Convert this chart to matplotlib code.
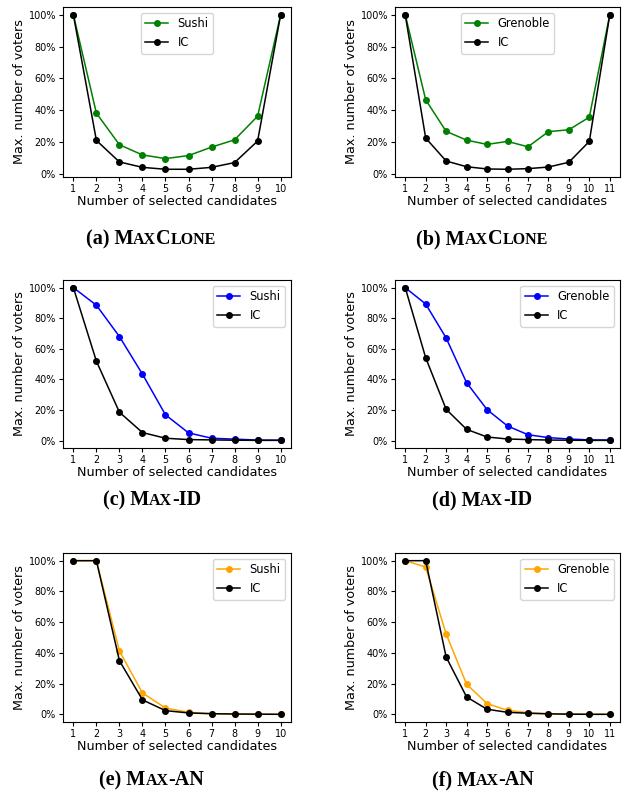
import matplotlib
matplotlib.use("Agg")
import matplotlib.pyplot as plt
from matplotlib.ticker import PercentFormatter
from matplotlib.offsetbox import TextArea, HPacker, AnnotationBbox

# values (fraction of voters)
clone_sushi = [1.0, 0.382, 0.184, 0.120, 0.097, 0.116, 0.169, 0.215, 0.363, 1.0]
clone_sushi_ic = [1.0, 0.211, 0.076, 0.042, 0.030, 0.030, 0.042, 0.072, 0.207, 1.0]
clone_gren = [1.0, 0.466, 0.268, 0.213, 0.186, 0.205, 0.171, 0.266, 0.278, 0.357, 1.0]
clone_gren_ic = [1.0, 0.226, 0.082, 0.046, 0.032, 0.030, 0.034, 0.044, 0.074, 0.205, 1.0]

id_sushi = [1.0, 0.885, 0.680, 0.434, 0.168, 0.050, 0.015, 0.009, 0.003, 0.002]
id_sushi_ic = [1.0, 0.519, 0.185, 0.052, 0.015, 0.006, 0.004, 0.002, 0.001, 0.001]
id_gren = [1.0, 0.893, 0.671, 0.379, 0.203, 0.096, 0.039, 0.020, 0.011, 0.005, 0.004]
id_gren_ic = [1.0, 0.542, 0.205, 0.074, 0.024, 0.011, 0.007, 0.004, 0.003, 0.002, 0.002]

an_sushi = [1.0, 1.0, 0.412, 0.139, 0.041, 0.013, 0.004, 0.002, 0.001, 0.0]
an_sushi_ic = [1.0, 1.0, 0.349, 0.094, 0.024, 0.009, 0.004, 0.002, 0.001, 0.0]
an_gren = [1.0, 0.958, 0.523, 0.196, 0.070, 0.026, 0.011, 0.004, 0.002, 0.001, 0.0]
an_gren_ic = [1.0, 1.0, 0.373, 0.113, 0.033, 0.013, 0.007, 0.003, 0.001, 0.0, 0.0]

W, H = 622, 795
fig = plt.figure(figsize=(W / 100, H / 100), dpi=100)


def add_panel(left, top, right, bottom, data, ic, name, color, loc):
    ax = fig.add_axes([left / W, 1 - bottom / H, (right - left) / W, (bottom - top) / H])
    x = list(range(1, len(data) + 1))
    ax.plot(x, data, marker="o", markersize=4, lw=1.1, color=color, label=name)
    ax.plot(x, ic, marker="o", markersize=4, lw=1.1, color="black", label="IC")
    ax.set_xticks(x)
    ax.yaxis.set_major_formatter(PercentFormatter(1.0, decimals=0))
    ax.tick_params(labelsize=6.9, length=3, pad=2)
    ax.set_xlabel("Number of selected candidates", fontsize=9.2, labelpad=1)
    ax.set_ylabel("Max. number of voters", fontsize=9.2, labelpad=2)
    ax.legend(loc=loc, fontsize=8.3)
    return ax


def caption(xc, yc, parts):
    boxes = []
    for txt, big in parts:
        boxes.append(TextArea(txt, textprops=dict(fontsize=14.5 if big else 11.5,
                                                   fontweight="bold",
                                                   family="Liberation Serif")))
    pack = HPacker(children=boxes, align="baseline", pad=0, sep=0)
    ab = AnnotationBbox(pack, (xc / W, 1 - yc / H), xycoords="figure fraction",
                        frameon=False, box_alignment=(0.5, 0.5))
    fig.add_artist(ab)


add_panel(63, 7, 291, 177, clone_sushi, clone_sushi_ic, "Sushi", "green", "upper center")
add_panel(395, 7, 620, 177, clone_gren, clone_gren_ic, "Grenoble", "green", "upper center")
add_panel(63, 280, 291, 448, id_sushi, id_sushi_ic, "Sushi", "blue", "upper right")
add_panel(395, 280, 620, 448, id_gren, id_gren_ic, "Grenoble", "blue", "upper right")
add_panel(63, 553, 291, 722, an_sushi, an_sushi_ic, "Sushi", "orange", "upper right")
add_panel(395, 553, 620, 722, an_gren, an_gren_ic, "Grenoble", "orange", "upper right")

caption(151, 239, [("(a) M", True), ("AX", False), ("C", True), ("LONE", False)])
caption(482, 239, [("(b) M", True), ("AX", False), ("C", True), ("LONE", False)])
caption(152, 500, [("(c) M", True), ("AX", False), ("-ID", True)])
caption(482, 500, [("(d) M", True), ("AX", False), ("-ID", True)])
caption(152, 780, [("(e) M", True), ("AX", False), ("-AN", True)])
caption(483, 780, [("(f) M", True), ("AX", False), ("-AN", True)])

fig.savefig("out.png", dpi=100)
